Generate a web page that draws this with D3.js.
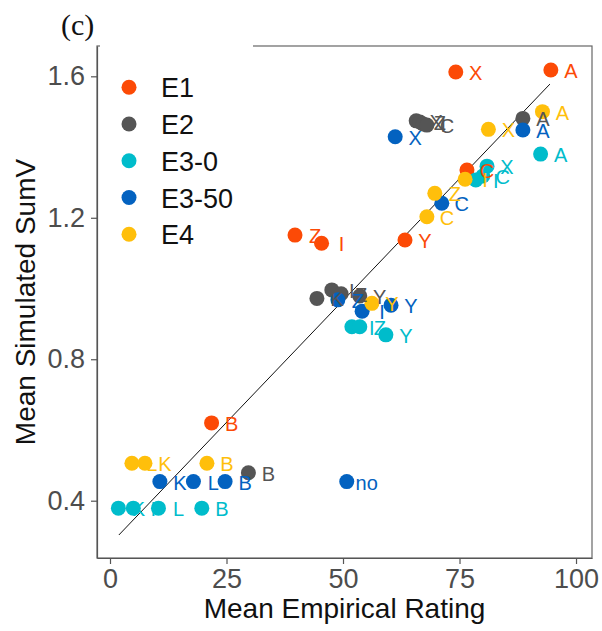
<!DOCTYPE html>
<html>
<head>
<meta charset="utf-8">
<script src="https://cdn.jsdelivr.net/npm/d3@7"></script>
<style>
  body { margin: 0; background: #fff; }
  svg text { font-family: "Liberation Sans", Arial, sans-serif; }
</style>
</head>
<body>
<svg id="chart"></svg>
<script>
// groups + colours
const groups = ["E1", "E2", "E3-0", "E3-50", "E4"];
const colors = ["#FC4A06", "#555555", "#00BCCB", "#0362C0", "#FFBF0B"];

// values
const e1X = [94.6, 74.2, 76.6, 63.3, 45.4, 39.7, 21.8];
const e1Y = [1.618, 1.612, 1.335, 1.137, 1.128, 1.151, 0.620];
const e1Lab = ["A", "X", "C", "Y", "I", "Z", "B"];

const e2X = [88.6, 65.7, 66.5, 67.2, 68.0, 44.4, 47.6, 49.6, 53.6, 29.7];
const e2Y = [1.481, 1.474, 1.471, 1.465, 1.462, 0.972, 0.996, 0.985, 0.979, 0.479];
const e2Lab = ["A", "X", "Z", "I", "C", "K", "I", "Z", "Y", "B"];

const e30X = [92.4, 80.9, 80.0, 78.5, 51.9, 53.6, 59.2, 1.8, 5.0, 10.4, 19.7];
const e30Y = [1.380, 1.346, 1.318, 1.307, 0.892, 0.892, 0.869, 0.379, 0.379, 0.379, 0.379];
const e30Lab = ["A", "X", "C", "I", "I", "Z", "Y", "K", "I", "L", "B"];

const e350X = [88.6, 61.2, 71.2, 48.9, 54.1, 60.3, 10.7, 17.9, 24.7, 50.8];
const e350Y = [1.448, 1.429, 1.241, 0.968, 0.936, 0.953, 0.454, 0.454, 0.454, 0.454];
const e350Lab = ["A", "X", "C", "Z", "I", "Y", "K", "L", "B", "no"];

const e4X = [92.8, 81.2, 76.2, 69.7, 68.0, 56.2, 4.7, 7.5, 20.8];
const e4Y = [1.500, 1.450, 1.309, 1.269, 1.203, 0.958, 0.506, 0.506, 0.506];
const e4Lab = ["A", "X", "I", "Z", "C", "Y", "L", "K", "B"];

// fitted line ends
const fitX = [1.9, 94.4];
const fitY = [0.303, 1.578];

const xTicks = [0, 25, 50, 75, 100];
const yTicks = [0.4, 0.8, 1.2, 1.6];

const series = [
  [e1X, e1Y, e1Lab],
  [e2X, e2Y, e2Lab],
  [e30X, e30Y, e30Lab],
  [e350X, e350Y, e350Lab],
  [e4X, e4Y, e4Lab]
];

const W = 602, H = 631;
const pLeft = 97, pRight = 592, pTop = 46, pBottom = 558;

const points = [];
series.forEach((s, gi) => {
  s[0].forEach((v, i) => points.push({ g: gi, x: v, y: s[1][i], lab: s[2][i] }));
});

const svg = d3.select("#chart").attr("width", W).attr("height", H);

const x = d3.scaleLinear().domain([-2.79, 103.43]).range([pLeft, pRight]);
const y = d3.scaleLinear().domain([0.238, 1.6857]).range([pBottom, pTop]);
const color = d3.scaleOrdinal().domain(d3.range(groups.length)).range(colors);

// panel border
svg.append("rect")
  .attr("x", pLeft).attr("y", pTop)
  .attr("width", pRight - pLeft).attr("height", pBottom - pTop)
  .attr("fill", "none").attr("stroke", "#666").attr("stroke-width", 1.2);

// axes
const xAxis = svg.append("g")
  .attr("transform", `translate(0,${pBottom})`)
  .call(d3.axisBottom(x).tickValues(xTicks).tickSize(6).tickPadding(5).tickSizeOuter(0));
const yAxis = svg.append("g")
  .attr("transform", `translate(${pLeft},0)`)
  .call(d3.axisLeft(y).tickValues(yTicks).tickFormat(d3.format(".1f")).tickSize(6).tickPadding(6).tickSizeOuter(0));
[xAxis, yAxis].forEach(a => {
  a.select(".domain").attr("stroke", "#555").attr("stroke-width", 1.2);
  a.selectAll(".tick line").attr("stroke", "#555").attr("stroke-width", 1.2);
  a.selectAll(".tick text").attr("fill", "#4d4d4d").style("font-size", "27px")
    .style("font-family", "'Liberation Sans', Arial, sans-serif");
});

// fit line
svg.append("line")
  .attr("x1", x(fitX[0])).attr("y1", y(fitY[0]))
  .attr("x2", x(fitX[1])).attr("y2", y(fitY[1]))
  .attr("stroke", "#111").attr("stroke-width", 1);

// points first, then labels on top
svg.append("g").selectAll("circle")
  .data(points)
  .join("circle")
  .attr("cx", d => x(d.x))
  .attr("cy", d => y(d.y))
  .attr("r", 7.5)
  .attr("fill", d => color(d.g));

svg.append("g").selectAll("text")
  .data(points)
  .join("text")
  .attr("x", d => x(d.x) + 20)
  .attr("y", d => y(d.y) + 1)
  .attr("text-anchor", "middle")
  .attr("dominant-baseline", "central")
  .attr("fill", d => color(d.g))
  .style("font-size", "20px")
  .text(d => d.lab);

// legend (white box sits over the top border)
const legend = svg.append("g");
legend.append("rect")
  .attr("x", pLeft + 3).attr("y", pTop - 2)
  .attr("width", 153).attr("height", 210)
  .attr("fill", "#fff");
groups.forEach((gname, i) => {
  const ly = 87.3 + i * 36.75;
  legend.append("circle").attr("cx", 129).attr("cy", ly).attr("r", 7.5).attr("fill", colors[i]);
  legend.append("text").attr("x", 161).attr("y", ly + 1)
    .attr("dominant-baseline", "central")
    .style("font-size", "27px").attr("fill", "#111")
    .text(gname);
});

// titles
svg.append("text")
  .attr("x", (pLeft + pRight) / 2).attr("y", 618)
  .attr("text-anchor", "middle")
  .style("font-size", "28px").attr("fill", "#111")
  .text("Mean Empirical Rating");

svg.append("text")
  .attr("transform", `translate(35,${(pTop + pBottom) / 2}) rotate(-90)`)
  .attr("text-anchor", "middle")
  .style("font-size", "28px").attr("fill", "#111")
  .text("Mean Simulated SumV");

svg.append("text")
  .attr("x", 61).attr("y", 35)
  .style("font-family", "'Liberation Serif', 'Times New Roman', serif")
  .style("font-size", "30px").attr("fill", "#111")
  .text("(c)");
</script>
</body>
</html>
